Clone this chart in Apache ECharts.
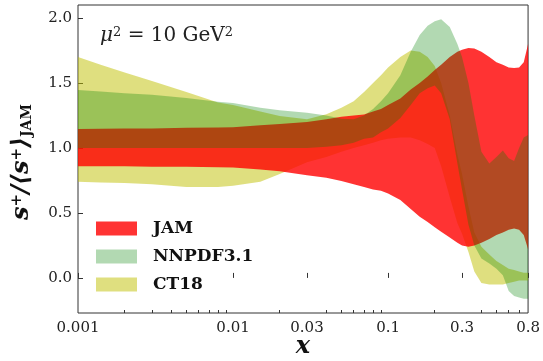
<!DOCTYPE html>
<html><head><meta charset="utf-8">
<script src="https://cdn.jsdelivr.net/npm/echarts@6/dist/echarts.min.js"></script>
<style>html,body{margin:0;padding:0;background:#fff}#c{width:543px;height:361px}</style>
</head><body><div id="c"></div>
<script>
// x positions (momentum fraction) shared by all bands
const xs = [0.001, 0.0014, 0.002, 0.003, 0.005, 0.008, 0.01, 0.015, 0.02, 0.03, 0.04, 0.05, 0.06, 0.07, 0.08, 0.09, 0.1, 0.12, 0.14, 0.16, 0.18, 0.2, 0.22, 0.25, 0.28, 0.3, 0.33, 0.36, 0.4, 0.45, 0.5, 0.55, 0.6, 0.65, 0.7, 0.75, 0.8];

const jamHi = [1.146, 1.148, 1.15, 1.15, 1.155, 1.158, 1.16, 1.175, 1.185, 1.2, 1.22, 1.24, 1.25, 1.258, 1.28, 1.3, 1.33, 1.38, 1.45, 1.5, 1.55, 1.6, 1.64, 1.7, 1.74, 1.755, 1.77, 1.765, 1.74, 1.70, 1.66, 1.64, 1.62, 1.615, 1.62, 1.66, 1.8];
const jamLo = [0.86, 0.86, 0.86, 0.855, 0.855, 0.852, 0.85, 0.835, 0.82, 0.79, 0.77, 0.745, 0.72, 0.70, 0.68, 0.67, 0.65, 0.6, 0.53, 0.47, 0.43, 0.39, 0.355, 0.31, 0.27, 0.25, 0.24, 0.25, 0.27, 0.30, 0.33, 0.35, 0.37, 0.38, 0.37, 0.33, 0.22];

const nnpdfHi = [1.446, 1.435, 1.42, 1.41, 1.385, 1.355, 1.345, 1.31, 1.29, 1.27, 1.25, 1.225, 1.22, 1.25, 1.3, 1.36, 1.42, 1.56, 1.74, 1.87, 1.94, 1.975, 1.99, 1.93, 1.8, 1.7, 1.5, 1.25, 0.97, 0.88, 0.93, 0.98, 0.92, 0.9, 1.0, 1.08, 1.1];
const nnpdfLo = [1.0, 1.0, 1.0, 1.0, 1.0, 1.0, 1.0, 1.0, 1.0, 1.0, 1.01, 1.02, 1.04, 1.07, 1.08, 1.12, 1.15, 1.23, 1.33, 1.42, 1.46, 1.48, 1.42, 1.22, 0.88, 0.68, 0.41, 0.25, 0.15, 0.11, 0.07, 0.02, -0.1, -0.14, -0.15, -0.16, -0.16];

const ct18Hi = [1.70, 1.64, 1.58, 1.515, 1.43, 1.35, 1.33, 1.28, 1.245, 1.22, 1.26, 1.31, 1.36, 1.43, 1.5, 1.56, 1.62, 1.70, 1.75, 1.74, 1.70, 1.63, 1.5, 1.25, 0.95, 0.8, 0.55, 0.35, 0.24, 0.18, 0.13, 0.10, 0.07, 0.06, 0.05, 0.04, 0.04];
const ct18Lo = [0.74, 0.735, 0.73, 0.72, 0.70, 0.70, 0.71, 0.74, 0.8, 0.89, 0.93, 0.97, 1.0, 1.02, 1.04, 1.06, 1.07, 1.08, 1.08, 1.06, 1.03, 1.0, 0.86, 0.62, 0.42, 0.34, 0.2, 0.05, -0.04, -0.05, -0.05, -0.05, -0.04, -0.03, -0.02, -0.02, -0.02];

const seriesNames = ['JAM', 'NNPDF3.1', 'CT18'];
const xTickValues = [0.001, 0.01, 0.03, 0.1, 0.3, 0.8];
const xTickLabels = ['0.001', '0.01', '0.03', '0.1', '0.3', '0.8'];
const xMinorTicks = [0.002, 0.003, 0.004, 0.005, 0.006, 0.007, 0.008, 0.009, 0.02, 0.04, 0.05, 0.06, 0.07, 0.08, 0.09, 0.2, 0.4, 0.5, 0.6, 0.7];
const yTickValues = [0, 0.5, 1, 1.5, 2];
const yTickLabels = ['0.0', '0.5', '1.0', '1.5', '2.0'];

const SERIF = '"DejaVu Serif", "Liberation Serif", serif';

function nearestLabel(v, vals, labels) {
  let best = 0, bd = Infinity;
  vals.forEach((t, i) => { const d = Math.abs(Math.log(t) - Math.log(Math.abs(v) || 1e-9)); if (d < bd) { bd = d; best = i; } });
  return labels[best];
}

function band(name, lo, hi, color) {
  return {
    type: 'custom', name, xAxisIndex: 0, yAxisIndex: 0, clip: true,
    itemStyle: { color },
    data: xs.map((x, i) => [x, lo[i], hi[i]]),
    encode: { x: 0, y: [1, 2] },
    renderItem(params, api) {
      if (params.dataIndex !== 0) return null;
      const pts = [];
      for (let i = 0; i < xs.length; i++) pts.push(api.coord([xs[i], hi[i]]));
      for (let i = xs.length - 1; i >= 0; i--) pts.push(api.coord([xs[i], lo[i]]));
      return { type: 'polygon', shape: { points: pts }, style: { fill: color } };
    }
  };
}

const chart = echarts.init(document.getElementById('c'), null, { renderer: 'canvas' });
chart.setOption({
  animation: false,
  backgroundColor: '#fff',
  grid: { left: 78, right: 13, top: 5, bottom: 48, show: true, borderColor: '#333', borderWidth: 1, backgroundColor: 'transparent' },
  xAxis: [{
    type: 'log', logBase: 10, min: 0.001, max: 0.8, position: 'bottom',
    axisLine: { show: false }, splitLine: { show: false },
    axisTick: { show: true, inside: true, length: 5, lineStyle: { color: '#333' }, customValues: xTickValues },
    axisLabel: { show: true, customValues: xTickValues, margin: 8, fontFamily: SERIF, fontSize: 15, color: '#222',
      formatter: v => nearestLabel(v, xTickValues, xTickLabels) }
  }, {
    type: 'log', logBase: 10, min: 0.001, max: 0.8, position: 'bottom',
    axisLine: { show: false }, splitLine: { show: false },
    axisTick: { show: true, inside: true, length: 3, lineStyle: { color: '#333' }, customValues: xMinorTicks },
    axisLabel: { show: false }
  }],
  yAxis: {
    type: 'value', min: -0.27, max: 2.1,
    axisLine: { show: false }, splitLine: { show: false },
    axisTick: { show: true, inside: true, length: 5, lineStyle: { color: '#333' }, customValues: yTickValues },
    axisLabel: { customValues: yTickValues, margin: 6, fontFamily: SERIF, fontSize: 15, color: '#222',
      formatter: v => yTickLabels[yTickValues.findIndex(t => Math.abs(t - v) < 1e-6)] }
  },
  legend: {
    data: seriesNames, orient: 'vertical', left: 96, top: 220, icon: 'rect', padding: 0,
    itemWidth: 41, itemHeight: 14, itemGap: 11,
    textStyle: { fontFamily: SERIF, fontWeight: 'bold', fontSize: 17, color: '#111', lineHeight: 14, padding: [0, 0, 0, 11] }
  },
  series: [
    band('CT18', ct18Lo, ct18Hi, 'rgba(191,191,0,0.5)'),
    band('JAM', jamLo, jamHi, 'rgba(255,0,0,0.8)'),
    band('NNPDF3.1', nnpdfLo, nnpdfHi, 'rgba(0,128,0,0.3)')
  ],
  graphic: [
    { type: 'text', x: 100, y: 36, z: 100, style: {
      text: '{i|μ}{s|2}{n| = 10 GeV}{s|2}', verticalAlign: 'middle', fill: '#222',
      rich: {
        i: { fontFamily: SERIF, fontStyle: 'italic', fontSize: 20, fill: '#222' },
        n: { fontFamily: SERIF, fontSize: 20, fill: '#222' },
        s: { fontFamily: SERIF, fontSize: 13, verticalAlign: 'top', fill: '#222' }
      } } },
    { type: 'text', x: 22, y: 162, rotation: Math.PI / 2, z: 100, style: {
      text: '{s|s}{p|+}{s|/⟨s}{p|+}{s|⟩}{j|JAM}', align: 'center', verticalAlign: 'middle', fill: '#111',
      rich: {
        s: { fontFamily: SERIF, fontStyle: 'italic', fontWeight: 'bold', fontSize: 24, fill: '#111' },
        p: { fontFamily: SERIF, fontWeight: 'bold', fontSize: 15, verticalAlign: 'top', fill: '#111' },
        j: { fontFamily: SERIF, fontWeight: 'bold', fontSize: 14, verticalAlign: 'bottom', fill: '#111' }
      } } },
    { type: 'text', x: 303, y: 347, z: 100, style: {
      text: 'x', align: 'center', verticalAlign: 'middle', fontFamily: SERIF, fontStyle: 'italic', fontWeight: 'bold', fontSize: 24, fill: '#111' } }
  ]
});
</script></body></html>
